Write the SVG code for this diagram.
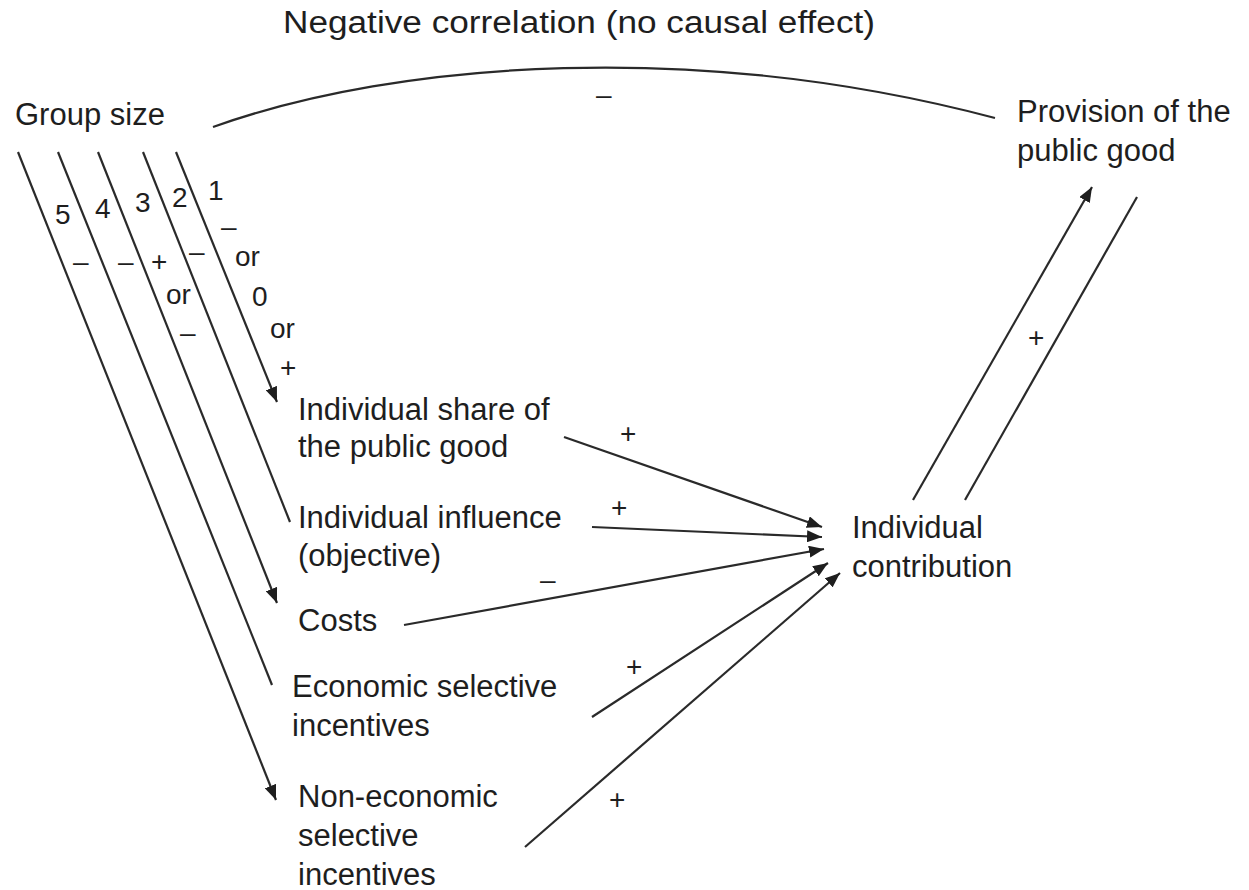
<svg xmlns="http://www.w3.org/2000/svg" width="1249" height="890" viewBox="0 0 1249 890">
<style>
  .t { font-family: "Liberation Sans", Arial, sans-serif; font-size: 31px; fill: #1e1e1e; }
  .s { font-family: "Liberation Sans", Arial, sans-serif; font-size: 28px; fill: #1e1e1e; }
  .c { fill: none; stroke: #2a2a2a; stroke-width: 2.2; }
  .a { fill: none; stroke: #2a2a2a; stroke-width: 2.2; marker-end: url(#ah); }
</style>
<defs>
  <marker id="ah" markerUnits="userSpaceOnUse" markerWidth="16" markerHeight="12" refX="15" refY="6" orient="auto">
    <path d="M0,0 L15,6 L0,12 z" fill="#1e1e1e"/>
  </marker>
</defs>
<rect width="1249" height="890" fill="#ffffff"/>

<g id="connectors">
  <path id="c-corr" class="c" d="M213,127 C400,60 700,40 995,118"/>
  <text class="t" x="283" y="33" textLength="592" lengthAdjust="spacingAndGlyphs">Negative correlation (no causal effect)</text>
  <text class="s" x="596" y="104">–</text>

  <line class="a" x1="176" y1="152" x2="277" y2="402"/>
  <line class="c" x1="143" y1="152" x2="290" y2="522"/>
  <line class="a" x1="98" y1="152" x2="277" y2="603"/>
  <line class="c" x1="58" y1="152" x2="272" y2="685"/>
  <line class="a" x1="18" y1="152" x2="276" y2="800"/>

  <text class="s" x="55" y="224">5</text>
  <text class="s" x="95" y="218">4</text>
  <text class="s" x="135" y="212">3</text>
  <text class="s" x="172" y="207">2</text>
  <text class="s" x="208" y="200">1</text>

  <text class="s" x="221" y="236">–</text>
  <text class="s" x="235" y="266">or</text>
  <text class="s" x="252" y="306">0</text>
  <text class="s" x="270" y="338">or</text>
  <text class="s" x="280" y="377">+</text>

  <text class="s" x="189" y="261">–</text>
  <text class="s" x="151" y="271">+</text>
  <text class="s" x="166" y="304">or</text>
  <text class="s" x="180" y="342">–</text>
  <text class="s" x="118" y="271">–</text>
  <text class="s" x="73" y="271">–</text>

  <line class="a" x1="564" y1="437" x2="822" y2="527"/>
  <text class="s" x="620" y="443">+</text>
  <line class="a" x1="592" y1="527" x2="822" y2="537"/>
  <text class="s" x="611" y="517">+</text>
  <line class="a" x1="404" y1="625" x2="824" y2="549"/>
  <text class="s" x="540" y="589">–</text>
  <line class="a" x1="592" y1="717" x2="828" y2="563"/>
  <text class="s" x="626" y="676">+</text>
  <line class="a" x1="525" y1="847" x2="840" y2="573"/>
  <text class="s" x="609" y="809">+</text>

  <line class="a" x1="913" y1="500" x2="1092" y2="187"/>
  <line class="c" x1="965" y1="500" x2="1137" y2="197"/>
  <text class="s" x="1028" y="347">+</text>
</g>

<g id="n-group">
  <text class="t" x="15" y="125">Group size</text>
</g>
<g id="n-provision">
  <text class="t" x="1017" y="122">Provision of the</text>
  <text class="t" x="1017" y="161">public good</text>
</g>
<g id="n-share">
  <text class="t" x="298" y="420">Individual share of</text>
  <text class="t" x="298" y="457">the public good</text>
</g>
<g id="n-influence">
  <text class="t" x="298" y="528">Individual influence</text>
  <text class="t" x="298" y="566">(objective)</text>
</g>
<g id="n-costs">
  <text class="t" x="298" y="631">Costs</text>
</g>
<g id="n-economic">
  <text class="t" x="292" y="697">Economic selective</text>
  <text class="t" x="292" y="736">incentives</text>
</g>
<g id="n-noneconomic">
  <text class="t" x="298" y="807">Non-economic</text>
  <text class="t" x="298" y="846">selective</text>
  <text class="t" x="298" y="885">incentives</text>
</g>
<g id="n-contribution">
  <text class="t" x="852" y="538">Individual</text>
  <text class="t" x="852" y="577">contribution</text>
</g>
</svg>
